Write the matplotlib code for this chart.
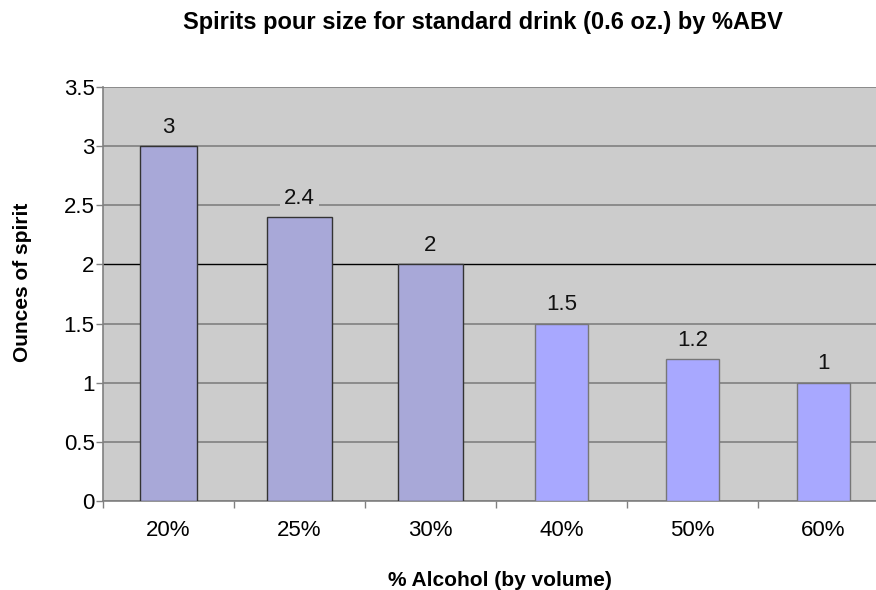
import numpy as np
import matplotlib
matplotlib.use('Agg')
import matplotlib.pyplot as plt

plt.rcParams['font.family'] = ['Liberation Sans', 'DejaVu Sans']

# data
categories = ['20%', '25%', '30%', '40%', '50%', '60%']
ounces = [3, 2.4, 2, 1.5, 1.2, 1]
value_labels = ['3', '2.4', '2', '1.5', '1.2', '1']

bg = '#cccccc'
bar_colors = ['#a8a8d8'] * 3 + ['#a8a8ff'] * 3
edge_colors = ['#333333'] * 3 + ['#777777'] * 3
bar_widths = [0.44, 0.5, 0.5, 0.4, 0.4, 0.4]

fig = plt.figure(figsize=(8.76, 5.9), dpi=100)
ax = fig.add_axes([103 / 876, 1 - 501 / 590, 786 / 876, 414 / 590])
ax.set_facecolor(bg)

x = np.arange(len(categories))
bars = ax.bar(x, ounces, width=bar_widths, color=bar_colors,
              edgecolor=edge_colors, linewidth=1.0, zorder=3)

for xi, v, lab in zip(x, ounces, value_labels):
    ax.annotate(lab, (xi, v), xytext=(0, 6), textcoords='offset points',
                ha='center', va='bottom', fontsize=16, color='#111111',
                bbox=dict(boxstyle='square,pad=0.2', fc=bg, ec='none'),
                zorder=4)

ax.set_xlim(-0.5, 5.5)
ax.set_ylim(0, 3.5)
yt = np.arange(0, 3.51, 0.5)
ax.set_yticks(yt)
ax.set_yticklabels(['0', '0.5', '1', '1.5', '2', '2.5', '3', '3.5'])
ax.yaxis.grid(True, color='#808080', linewidth=1.2, zorder=0)
ax.set_axisbelow(True)
for val, gl in zip(yt, ax.get_ygridlines()):
    if val == 2:
        gl.set_color('black')
        gl.set_linewidth(1.0)

ax.set_xticks(x)
ax.set_xticklabels(categories)
ax.set_xticks(np.arange(-0.5, 5.6, 1), minor=True)
ax.tick_params(axis='x', which='major', length=0, pad=14, labelsize=16)
ax.tick_params(axis='x', which='minor', length=5, color='#808080', width=1)
ax.tick_params(axis='y', length=5, color='#808080', width=1, pad=1, labelsize=16)

for s in ['top', 'right']:
    ax.spines[s].set_visible(False)
ax.spines['left'].set_color('#808080')
ax.spines['bottom'].set_color('#808080')
ax.spines['left'].set_linewidth(1.2)
ax.spines['bottom'].set_linewidth(1.2)

fig.text(483 / 876, 1 - 23 / 590, 'Spirits pour size for standard drink (0.6 oz.) by %ABV',
         ha='center', va='center', fontsize=17, fontweight='bold')
fig.text(500 / 876, 1 - 580 / 590, '% Alcohol (by volume)',
         ha='center', va='center', fontsize=15, fontweight='bold')
fig.text(23 / 876, 1 - 282 / 590, 'Ounces of spirit', rotation=90,
         ha='center', va='center', fontsize=15, fontweight='bold')

fig.savefig('out.png', dpi=100)
